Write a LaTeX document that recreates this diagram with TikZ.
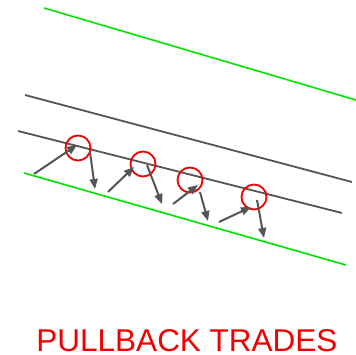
\documentclass[tikz,border=0pt]{standalone}
\usepackage{fontspec}
\setmainfont{Liberation Sans}
\usetikzlibrary{arrows.meta}
\definecolor{chgreen}{RGB}{0,230,0}
\definecolor{chgray}{RGB}{85,85,85}
\definecolor{chred}{RGB}{240,0,0}
\begin{document}
\begin{tikzpicture}[x=1pt,y=-1pt,
  chanline/.style={draw=chgreen,line width=1.6pt},
  midline/.style={draw=chgray,line width=1.8pt},
  ring/.style={circle,draw=chred,line width=1.8pt,minimum size=25pt,inner sep=0pt},
  movearrow/.style={draw=chgray,line width=2pt,-{Triangle[length=10pt,width=8pt]}},
  title/.style={text=chred,font=\fontsize{31.5}{34}\selectfont,inner sep=0pt,text depth=0pt}]
\useasboundingbox (0,0) rectangle (356,355);
% channel lines
\coordinate (g1a) at (44,8);   \coordinate (g1b) at (356,100);
\coordinate (m1a) at (25,95);  \coordinate (m1b) at (352,182);
\coordinate (m2a) at (18,131); \coordinate (m2b) at (342,213);
\coordinate (g2a) at (24,173); \coordinate (g2b) at (346,265);
\draw[chanline] (g1a) -- (g1b);
\draw[chanline] (g2a) -- (g2b);
\draw[midline] (m1a) -- (m1b);
\draw[midline] (m2a) -- (m2b);
% circles
\node[ring] (c1) at (78,148) {};
\node[ring] (c2) at (143,164) {};
\node[ring] (c3) at (190,180) {};
\node[ring] (c4) at (254,197) {};
% arrows
\coordinate (u1s) at (34,174);  \coordinate (u1e) at (77,145);
\coordinate (d1s) at (90,152);  \coordinate (d1e) at (95,189);
\coordinate (u2s) at (108,192); \coordinate (u2e) at (134,167);
\coordinate (d2s) at (147,165); \coordinate (d2e) at (162,204);
\coordinate (u3s) at (173,204); \coordinate (u3e) at (198,185);
\coordinate (d3s) at (200,192); \coordinate (d3e) at (208,221);
\coordinate (u4s) at (219,222); \coordinate (u4e) at (251,207);
\coordinate (d4s) at (257,200); \coordinate (d4e) at (264,238);
\draw[movearrow] (u1s) -- (u1e);
\draw[movearrow] (d1s) -- (d1e);
\draw[movearrow] (u2s) -- (u2e);
\draw[movearrow] (d2s) -- (d2e);
\draw[movearrow] (u3s) -- (u3e);
\draw[movearrow] (d3s) -- (d3e);
\draw[movearrow] (u4s) -- (u4e);
\draw[movearrow] (d4s) -- (d4e);
% title
\node[title,anchor=base] (t) at (187,351) {PULLBACK TRADES};
\end{tikzpicture}
\end{document}
